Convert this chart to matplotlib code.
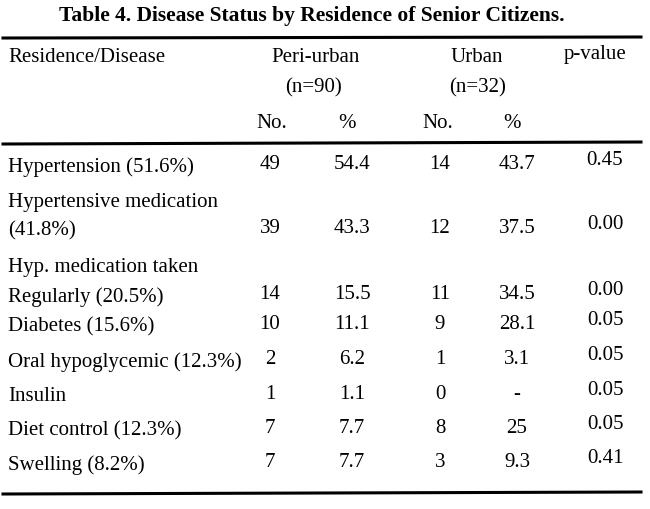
import matplotlib.pyplot as plt

plt.rcParams['font.family'] = ['Liberation Serif', 'DejaVu Serif']

TITLE = 'Table 4. Disease Status by Residence of Senior Citizens.'

# row labels; a row with a label only (no numbers) is a wrapped line
row_labels = [
    'Hypertension (51.6%)',
    'Hypertensive medication',
    '(41.8%)',
    'Hyp. medication taken',
    'Regularly (20.5%)',
    'Diabetes (15.6%)',
    'Oral hypoglycemic (12.3%)',
    'Insulin',
    'Diet control (12.3%)',
    'Swelling (8.2%)',
]
peri_no = ['49', None, '39', None, '14', '10', '2', '1', '7', '7']
peri_pct = ['54.4', None, '43.3', None, '15.5', '11.1', '6.2', '1.1', '7.7', '7.7']
urban_no = ['14', None, '12', None, '11', '9', '1', '0', '8', '3']
urban_pct = ['43.7', None, '37.5', None, '34.5', '28.1', '3.1', '-', '25', '9.3']
p_values = ['0.45', None, '0.00', None, '0.00', '0.05', '0.05', '0.05', '0.05', '0.41']

row_y = [167, 203, 231, 268, 297, 327, 362, 397, 431, 465]

fig = plt.figure(figsize=(6.5, 5.1), dpi=100)
ax = fig.add_axes([0, 0, 1, 1])
ax.set_xlim(0, 650)
ax.set_ylim(510, 0)
ax.axis('off')

fs = 15
ax.text(312, 16, TITLE, ha='center', va='center', fontsize=15.5, fontweight='bold')

# rules
ax.plot([3, 641], [39, 38], color='black', lw=2.2)
ax.plot([3, 641], [145, 143], color='black', lw=2.2)
ax.plot([3, 641], [495, 493], color='black', lw=2.2)

# header
ax.text(8, 57, 'Residence/Disease', ha='left', va='center', fontsize=fs)
ax.text(316, 57, 'Peri-urban', ha='center', va='center', fontsize=fs)
ax.text(477, 57, 'Urban', ha='center', va='center', fontsize=fs)
ax.text(595, 54, 'p-value', ha='center', va='center', fontsize=fs)
ax.text(313, 88, '(n=90)', ha='center', va='center', fontsize=fs)
ax.text(478, 88, '(n=32)', ha='center', va='center', fontsize=fs)
col_x = [272, 347, 438, 512]
for x, s in zip(col_x, ['No.', '%', 'No.', '%']):
    ax.text(x, 124, s, ha='center', va='center', fontsize=fs)

num_x = [270, 352, 440, 517, 605]
for i, label in enumerate(row_labels):
    y = row_y[i]
    ax.text(8, y, label, ha='left', va='center', fontsize=fs)
    vals = [peri_no[i], peri_pct[i], urban_no[i], urban_pct[i], p_values[i]]
    for j, (x, v) in enumerate(zip(num_x, vals)):
        if v is None:
            continue
        dy = -6 if j == 4 else -2
        ax.text(x, y + dy, v, ha='center', va='center', fontsize=fs)

fig.savefig('out.png', dpi=100)
